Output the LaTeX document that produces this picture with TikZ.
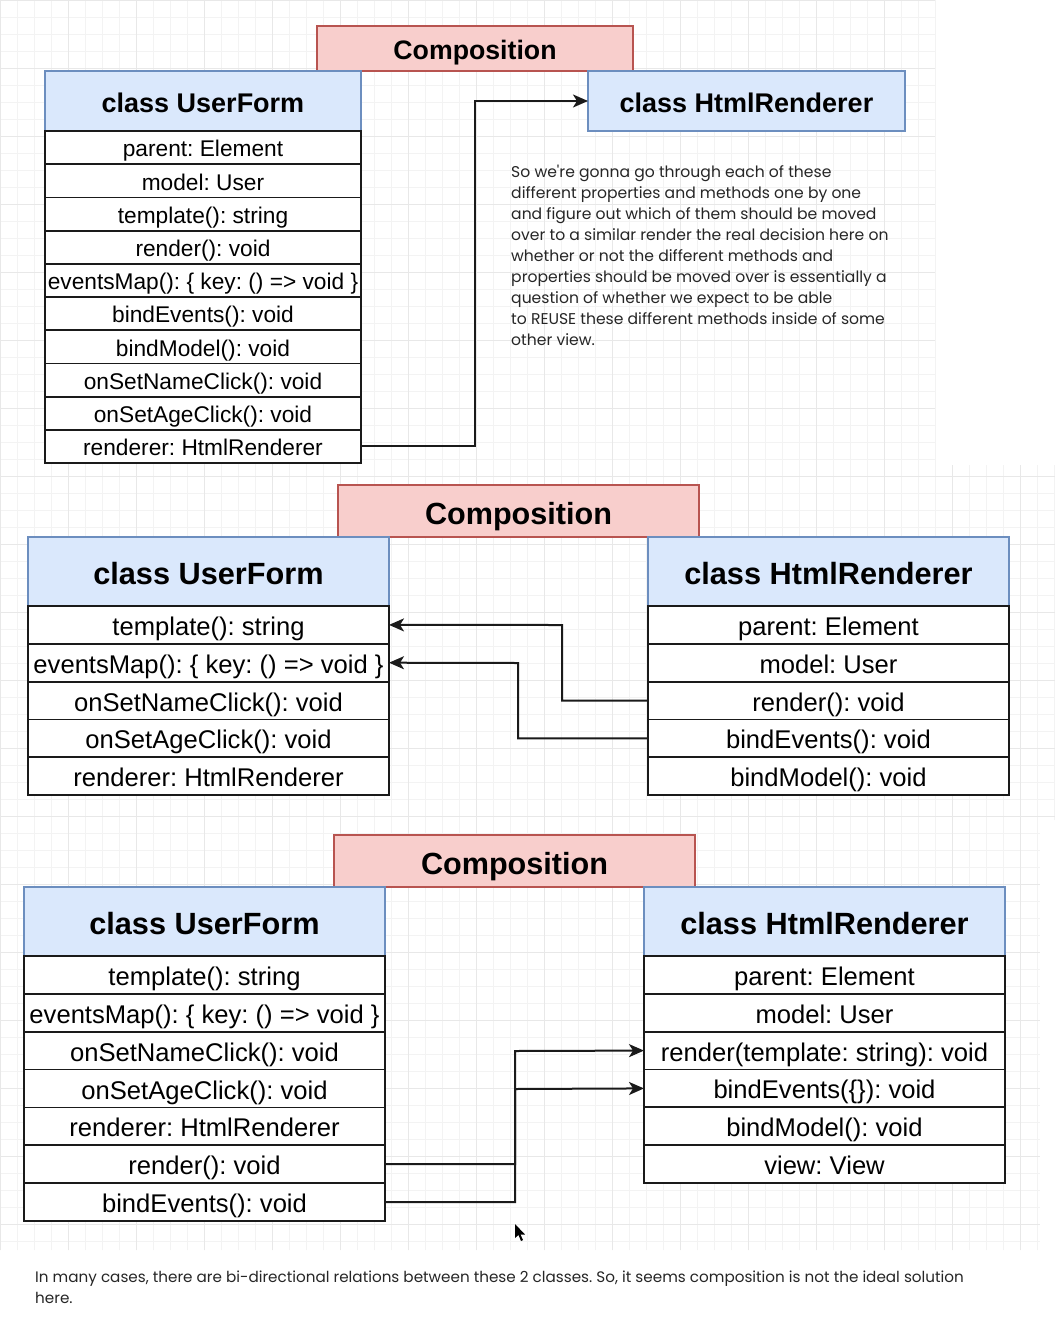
\documentclass[tikz,border=0pt]{standalone}
\usepackage{fontspec}
\setmainfont{Liberation Sans}
\newfontfamily\gothic{Poppins}
\usetikzlibrary{arrows.meta}
\definecolor{compfill}{HTML}{F8CECC}
\definecolor{compline}{HTML}{B85450}
\definecolor{headfill}{HTML}{DAE8FC}
\definecolor{headline}{HTML}{6C8EBF}
\definecolor{gridmin}{HTML}{F3F3F3}
\definecolor{gridmaj}{HTML}{E8E8E8}
\definecolor{ink}{HTML}{1A1A1A}
\frenchspacing
\begin{document}
\begin{tikzpicture}[x=1pt,y=-1pt,
  box/.style={inner sep=0pt, outer sep=0pt, anchor=north west},
  fs/.style={font=\frenchspacing\fontsize{#1}{#1}\selectfont, text height=1.07*#1pt, text depth=0.25*#1pt},
  fsb/.style={font=\frenchspacing\bfseries\fontsize{#1}{#1}\selectfont, text height=1.11*#1pt, text depth=0.25*#1pt},
  comp/.style={box, draw=compline, fill=compfill, line width=1.4pt},
  head/.style={box, draw=headline, fill=headfill, line width=1.4pt},
  row/.style={box, draw=ink, fill=white, line width=1.8pt},
  conn/.style={draw=ink, line width=2pt},
  arr/.style={conn, arrows={-Stealth[length=15pt, width=13pt, inset=4pt, fill=ink, color=ink]}},
  gmin/.style={draw=gridmin, line width=0.7pt},
  gmaj/.style={draw=gridmaj, line width=0.7pt},
  para/.style={inner sep=0pt, anchor=north west, align=left, font=\gothic\fontsize{15.6}{21}\selectfont, text=black!85}
]
\useasboundingbox (0,0) rectangle (1060,1325);
\fill[white] (0,0) rectangle (1060,1325);

% background grids
\draw[gmin] (0,0) grid[step=17pt] (935,465);
\draw[gmaj] (0,0) grid[step=68pt] (935,465);
\draw[gmin] (0,465) grid[step=17pt] (1055,820);
\draw[gmaj] (0,465) grid[step=68pt] (1055,820);
\draw[gmin] (0,820) grid[step=17pt] (1040,1250);
\draw[gmaj] (0,820) grid[step=68pt] (1040,1250);

% ===================== Section 1 =====================
\node[comp, fsb=26.7, minimum width=316, minimum height=45] (s1c) at (317,26) {Composition};
\node[head, fsb=27, minimum width=316, minimum height=60] (s1uh) at (45,71) {class UserForm};
\node[head, fsb=27, minimum width=317, minimum height=60] (s1hh) at (588,71) {class HtmlRenderer};
\foreach \t [count=\i] in {parent: Element, model: User, template(): string, render(): void,
  eventsMap(): \{ key: () => void \}, bindEvents(): void, bindModel(): void,
  onSetNameClick(): void, onSetAgeClick(): void, renderer: HtmlRenderer}
  \node[row, fs=22.7, minimum width=316, minimum height=33.2] (s1u\i) at (45,{131+(\i-1)*33.2}) {\t};

\node[para] (s1txt) at (511,165) {So we're gonna go through each of these\\
different properties and methods one by one\\
and figure out which of them should be moved\\
over to a similar render the real decision here on\\
whether or not the different methods and\\
properties should be moved over is essentially a\\
question of whether we expect to be able\\
to REUSE these different methods inside of some\\
other view.};

\coordinate (c1) at (475,101);
\draw[arr] (s1u10.east) -| (c1) -- (s1hh.west);

% ===================== Section 2 =====================
\node[comp, fsb=30.6, minimum width=361, minimum height=52] (s2c) at (338,485) {Composition};
\node[head, fsb=30.7, minimum width=361, minimum height=69] (s2uh) at (28,537) {class UserForm};
\node[head, fsb=30.7, minimum width=361, minimum height=69] (s2hh) at (648,537) {class HtmlRenderer};
\foreach \t [count=\i] in {template(): string, eventsMap(): \{ key: () => void \},
  onSetNameClick(): void, onSetAgeClick(): void, renderer: HtmlRenderer}
  \node[row, fs=25.6, minimum width=361, minimum height=37.8] (s2u\i) at (28,{606+(\i-1)*37.8}) {\t};
\foreach \t [count=\i] in {parent: Element, model: User, render(): void, bindEvents(): void, bindModel(): void}
  \node[row, fs=25.6, minimum width=361, minimum height=37.8] (s2h\i) at (648,{606+(\i-1)*37.8}) {\t};

\coordinate (c2a) at (562,625);
\coordinate (c2b) at (518,663);
\draw[arr] (s2h3.west) -| (c2a) -- (s2u1.east);
\draw[arr] (s2h4.west) -| (c2b) -- (s2u2.east);

% ===================== Section 3 =====================
\node[comp, fsb=30.6, minimum width=361, minimum height=52] (s3c) at (334,835) {Composition};
\node[head, fsb=30.7, minimum width=361, minimum height=69] (s3uh) at (24,887) {class UserForm};
\node[head, fsb=30.7, minimum width=361, minimum height=69] (s3hh) at (644,887) {class HtmlRenderer};
\foreach \t [count=\i] in {template(): string, eventsMap(): \{ key: () => void \},
  onSetNameClick(): void, onSetAgeClick(): void, renderer: HtmlRenderer, render(): void, bindEvents(): void}
  \node[row, fs=25.6, minimum width=361, minimum height=37.86] (s3u\i) at (24,{956+(\i-1)*37.86}) {\t};
\foreach \t [count=\i] in {parent: Element, model: User, render(template: string): void,
  bindEvents(\{\}): void, bindModel(): void, view: View}
  \node[row, fs=25.6, minimum width=361, minimum height=37.83] (s3h\i) at (644,{956+(\i-1)*37.83}) {\t};

\coordinate (c3a) at (515,1051);
\coordinate (c3b) at (515,1089);
\draw[arr] (s3u6.east) -| (c3a) -- (s3h3.west);
\draw[arr] (s3u7.east) -| (c3b) -- (s3h4.west);

% mouse cursor
\fill[black] (515,1224) -- (515,1238) -- (518.5,1235) -- (521,1241) -- (523,1240) -- (520.5,1234.5) -- (525,1234.5) -- cycle;

% bottom note
\node[para, font=\gothic\fontsize{15.2}{21}\selectfont] (note) at (35,1271) {In many cases, there are bi-directional relations between these 2 classes. So, it seems composition is not the ideal solution\\ here.};
\end{tikzpicture}
\end{document}
